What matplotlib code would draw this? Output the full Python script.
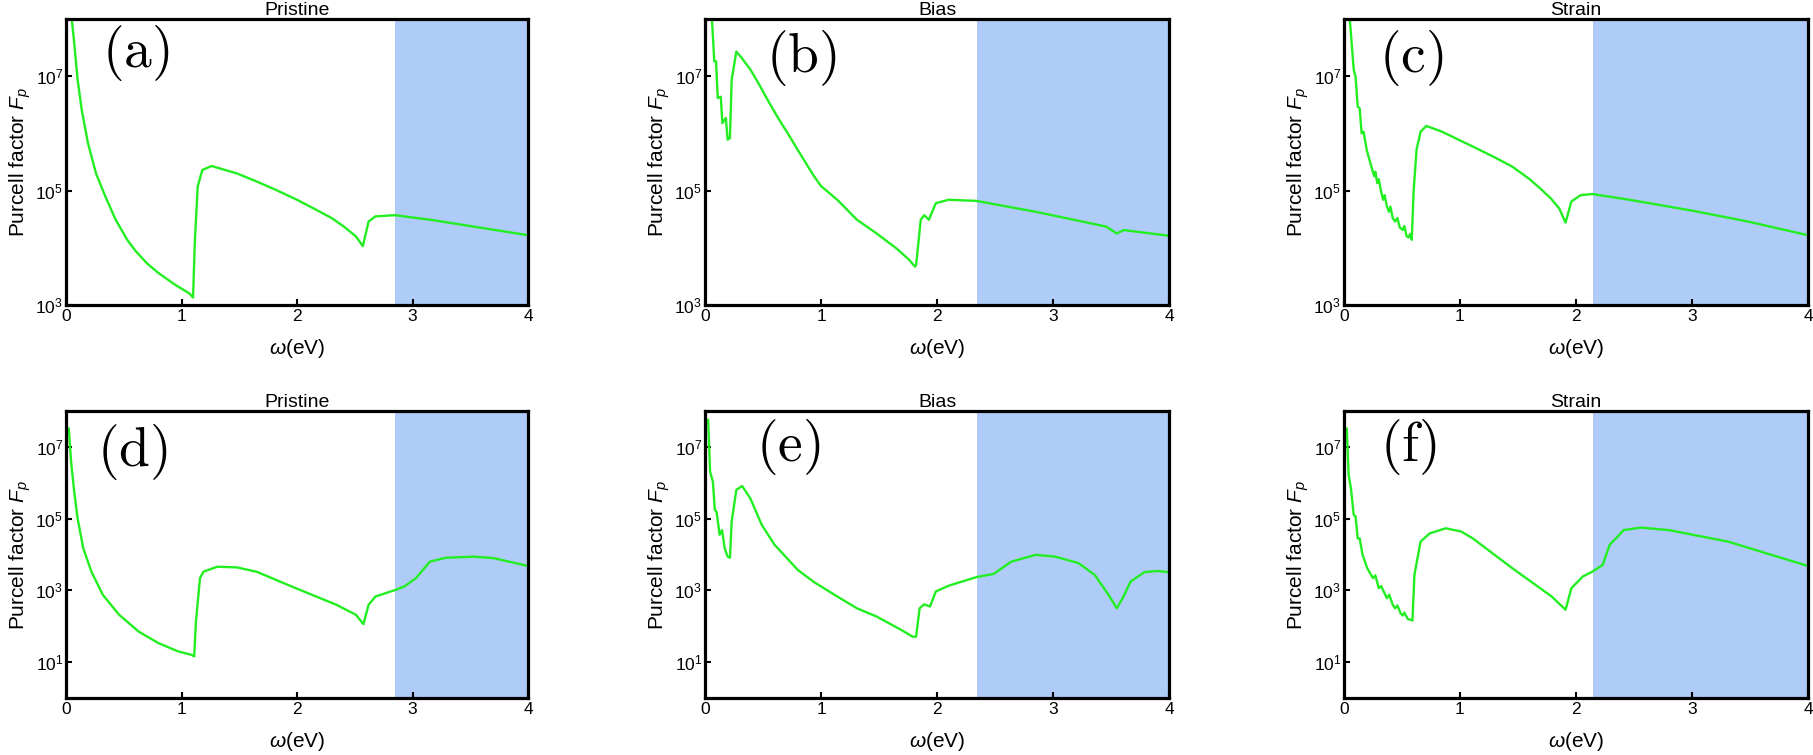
import numpy as np
import matplotlib
matplotlib.use("Agg")
import matplotlib.pyplot as plt

plt.rcParams['font.family'] = ['Liberation Sans', 'DejaVu Sans']
plt.rcParams['mathtext.fontset'] = 'custom'
plt.rcParams['mathtext.rm'] = 'Liberation Sans'
plt.rcParams['mathtext.it'] = 'Liberation Sans:italic'
plt.rcParams['mathtext.bf'] = 'Liberation Sans:bold'

# ---------------- data (omega in eV, log10 of Purcell factor) ----------------
titles = ["Pristine", "Bias", "Strain", "Pristine", "Bias", "Strain"]
panel_labels = ["(a)", "(b)", "(c)", "(d)", "(e)", "(f)"]
shade_start = [2.85, 2.345, 2.15, 2.85, 2.345, 2.15]

a_w = [0.03, 0.05, 0.07, 0.10, 0.136, 0.19, 0.26, 0.34, 0.43, 0.53, 0.60, 0.70, 0.80, 0.94, 1.07,
       1.10, 1.115, 1.14, 1.18, 1.26, 1.48, 1.65, 1.82, 2.00, 2.17, 2.30, 2.40, 2.51, 2.57, 2.62,
       2.68, 2.85, 3.19, 3.53, 4.00]
a_logF = [8.6, 8.0, 7.6, 6.95, 6.41, 5.83, 5.3, 4.9, 4.49, 4.14, 3.95, 3.73, 3.56, 3.36, 3.2,
          3.13, 4.08, 5.07, 5.36, 5.43, 5.30, 5.16, 5.01, 4.84, 4.66, 4.52, 4.38, 4.2, 4.03, 4.46,
          4.55, 4.57, 4.48, 4.37, 4.22]

b_w = [0.05, 0.06, 0.08, 0.095, 0.11, 0.136, 0.15, 0.18, 0.195, 0.215, 0.23, 0.27, 0.32, 0.39,
       0.46, 0.55, 0.63, 0.72, 0.80, 0.94, 1.00, 1.14, 1.31, 1.48, 1.65, 1.76, 1.81, 1.82, 1.86,
       1.89, 1.93, 1.99, 2.10, 2.34, 2.85, 3.46, 3.55, 3.61, 4.00]
b_logF = [8.6, 8.0, 7.26, 7.26, 6.62, 6.64, 6.18, 6.27, 5.89, 5.92, 6.94, 7.43, 7.31, 7.12,
          6.88, 6.55, 6.27, 5.98, 5.71, 5.25, 5.08, 4.84, 4.49, 4.25, 3.99, 3.79, 3.67, 3.7, 4.49,
          4.57, 4.49, 4.78, 4.84, 4.82, 4.63, 4.37, 4.25, 4.31, 4.21]

c_w = [0.04, 0.05, 0.084, 0.10, 0.118, 0.135, 0.152, 0.169, 0.196, 0.236, 0.26, 0.27, 0.287,
       0.30, 0.32, 0.338, 0.35, 0.37, 0.388, 0.40, 0.42, 0.44, 0.46, 0.48, 0.506, 0.52, 0.54,
       0.557, 0.57, 0.584, 0.60, 0.625, 0.66, 0.71, 0.845, 1.11, 1.30, 1.45, 1.60, 1.69,
       1.78, 1.855, 1.91, 1.96, 2.04, 2.14, 2.46, 3.00, 3.48, 4.00]
c_logF = [8.6, 8.0, 7.11, 6.99, 6.47, 6.44, 6.0, 6.03, 5.71, 5.42, 5.25, 5.33, 5.13,
          5.2, 4.98, 4.84, 4.92, 4.72, 4.63, 4.72, 4.52, 4.46, 4.52, 4.36, 4.31, 4.38, 4.2,
          4.18, 4.24, 4.14, 4.98, 5.71, 6.03, 6.13, 6.03, 5.77, 5.58, 5.42, 5.2, 5.04,
          4.87, 4.69, 4.44, 4.81, 4.92, 4.94, 4.84, 4.65, 4.46, 4.22]

d_w = [0.024, 0.044, 0.068, 0.10, 0.15, 0.22, 0.32, 0.46, 0.63, 0.80, 0.97, 1.09, 1.11, 1.125,
       1.16, 1.19, 1.31, 1.48, 1.65, 1.99, 2.34, 2.51, 2.575, 2.62, 2.68, 2.85, 2.93, 3.03, 3.15,
       3.29, 3.53, 3.70, 4.00]
d_logF = [7.51, 6.59, 5.84, 5.01, 4.17, 3.52, 2.87, 2.32, 1.85, 1.53, 1.30, 1.20, 1.16, 2.13,
          3.34, 3.52, 3.66, 3.64, 3.52, 3.06, 2.60, 2.32, 2.06, 2.60, 2.83, 3.01, 3.11, 3.34, 3.80,
          3.91, 3.94, 3.90, 3.68]

e_w = [0.027, 0.044, 0.068, 0.085, 0.10, 0.126, 0.147, 0.17, 0.195, 0.215, 0.23, 0.27, 0.32, 0.39,
       0.49, 0.60, 0.80, 0.94, 1.14, 1.31, 1.48, 1.69, 1.79, 1.82, 1.85, 1.89, 1.94, 1.99, 2.10,
       2.34, 2.49, 2.64, 2.85, 3.02, 3.22, 3.36, 3.48, 3.55, 3.60, 3.67, 3.79, 3.90, 3.99]
e_logF = [7.75, 6.31, 6.03, 5.24, 5.19, 4.55, 4.68, 4.17, 3.94, 3.91, 4.92, 5.80, 5.91, 5.57,
          4.82, 4.27, 3.57, 3.23, 2.83, 2.50, 2.27, 1.90, 1.71, 1.71, 2.50, 2.61, 2.55, 2.97, 3.13,
          3.37, 3.46, 3.80, 3.99, 3.94, 3.76, 3.43, 2.87, 2.50, 2.78, 3.25, 3.51, 3.54, 3.51]

f_w = [0.024, 0.04, 0.06, 0.084, 0.10, 0.118, 0.135, 0.16, 0.20, 0.25, 0.27, 0.30, 0.32, 0.37,
       0.39, 0.42, 0.44, 0.46, 0.49, 0.506, 0.52, 0.55, 0.574, 0.59, 0.607, 0.66, 0.74, 0.877,
       1.01, 1.11, 1.45, 1.79, 1.91, 1.96, 2.06, 2.14, 2.23, 2.29, 2.36, 2.41, 2.56, 2.80,
       3.31, 4.00]
f_logF = [7.51, 6.22, 5.84, 5.10, 5.06, 4.45, 4.45, 3.99, 3.62, 3.34, 3.42, 3.06, 3.12, 2.78,
          2.88, 2.6, 2.50, 2.58, 2.35, 2.30, 2.38, 2.2, 2.18, 2.16, 3.43, 4.36, 4.59, 4.73,
          4.64, 4.45, 3.62, 2.83, 2.46, 3.06, 3.39, 3.52, 3.71, 4.27, 4.50, 4.68, 4.75, 4.68,
          4.36, 3.68]

omegas = [a_w, b_w, c_w, d_w, e_w, f_w]
logFs = [a_logF, b_logF, c_logF, d_logF, e_logF, f_logF]

row_ylim = [(1e3, 1e8), (1e0, 1e8)]
row_yticks = [[1e3, 1e5, 1e7], [1e1, 1e3, 1e5, 1e7]]
row_yticklabels = [[r"$10^{3}$", r"$10^{5}$", r"$10^{7}$"],
                   [r"$10^{1}$", r"$10^{3}$", r"$10^{5}$", r"$10^{7}$"]]
xticks = [0, 1, 2, 3, 4]

# ---------------- layout ----------------
W, H = 1813, 755
fig = plt.figure(figsize=(W / 100, H / 100), dpi=100)

col_px = [(66, 528), (705, 1169), (1344, 1808)]
row_px = [(19, 305), (411, 698)]
label_pos = [(0.15, 0.88), (0.207, 0.865), (0.145, 0.865),
             (0.143, 0.857), (0.18, 0.875), (0.138, 0.875)]

line_color = '#22ee22'
shade_color = '#afccf9'

for i in range(6):
    r, c = divmod(i, 3)
    x0, x1 = col_px[c]
    y0, y1 = row_px[r]
    ax = fig.add_axes([x0 / W, 1 - y1 / H, (x1 - x0) / W, (y1 - y0) / H])
    ax.set_yscale('log')
    ax.axvspan(shade_start[i], 4, color=shade_color, lw=0, zorder=0)
    ax.plot(omegas[i], np.power(10.0, logFs[i]), color=line_color, lw=1.7, zorder=2)
    ax.set_xlim(0, 4)
    ax.set_ylim(*row_ylim[r])
    ax.set_xticks(xticks)
    ax.set_xticklabels([str(t) for t in xticks])
    ax.set_yticks(row_yticks[r])
    ax.set_yticklabels(row_yticklabels[r])
    ax.yaxis.set_minor_locator(matplotlib.ticker.NullLocator())
    ax.tick_params(direction='in', length=4, width=1.5, labelsize=12.5, pad=3,
                   top=False, right=False)
    ax.tick_params(axis='y', pad=2)
    for s in ax.spines.values():
        s.set_linewidth(2.3)
        s.set_zorder(3)
    ax.set_xlabel(r"$\mathit{\omega}$(eV)", fontsize=15, labelpad=9)
    ax.set_ylabel(r"Purcell factor $F_p$", fontsize=15, labelpad=2)
    ax.set_title(titles[i], fontsize=14, pad=2)
    ax.text(label_pos[i][0], label_pos[i][1], r"$\mathrm{" + panel_labels[i] + "}$",
            transform=ax.transAxes, fontsize=40, ha='center', va='center',
            math_fontfamily='cm')

fig.savefig("out.png", dpi=100)
